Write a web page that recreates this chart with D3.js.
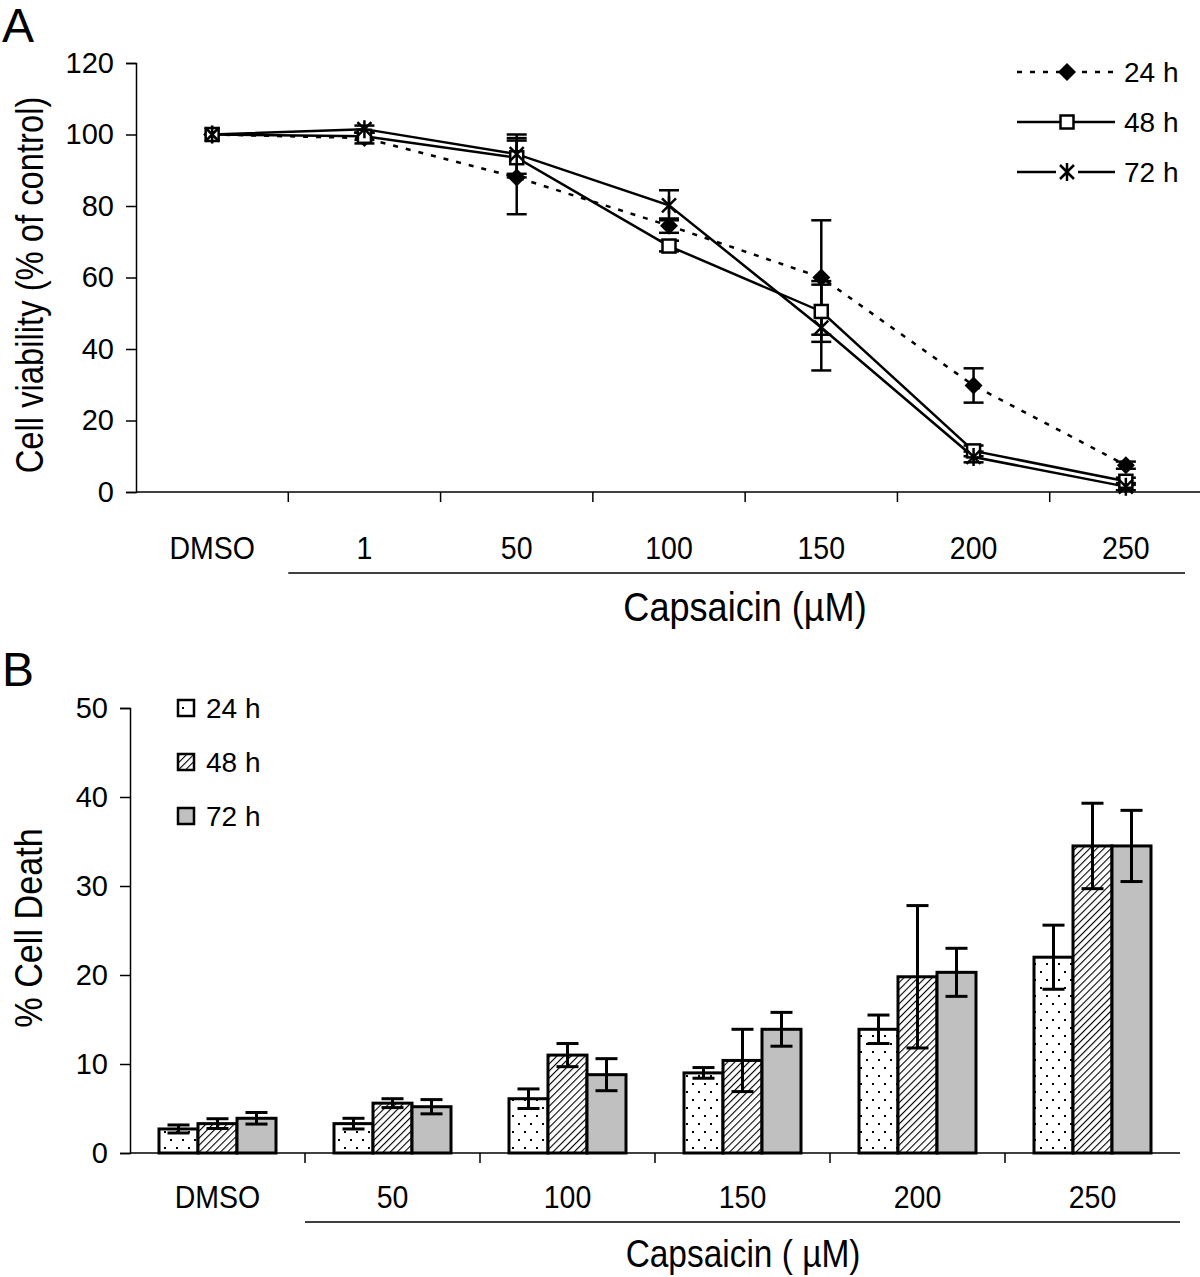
<!DOCTYPE html>
<html>
<head>
<meta charset="utf-8">
<script src="https://cdn.jsdelivr.net/npm/d3@7"></script>
<style>
  body { margin: 0; background: #fff; }
  svg { display: block; font-family: "Liberation Sans", Arial, sans-serif; }
</style>
</head>
<body>
<svg id="graf"></svg>
<script>
// panel A - viability
let dosisA = ['DMSO', '1', '50', '100', '150', '200', '250']
let ticksA = [0, 20, 40, 60, 80, 100, 120]
let via24 = [100, 99, 88, 74.5, 60, 29.8, 7.5]
let err24 = [0, 1.5, 10.3, 2, 16, 4.8, 1]
let via48 = [100, 99.5, 93.5, 68.8, 50.5, 11.5, 3]
let err48 = [0, 1, 5.5, 1.5, 8.5, 1.5, 1]
let via72 = [100, 101.5, 94.5, 80.2, 46, 9.8, 1.5]
let err72 = [0, 1, 5.5, 4.2, 12, 1.5, 1]

// panel B - cell death
let dosisB = ['DMSO', '50', '100', '150', '200', '250']
let ticksB = [0, 10, 20, 30, 40, 50]
let death24 = [2.7, 3.3, 6.1, 9.0, 13.9, 22.0]
let death48 = [3.3, 5.6, 11.0, 10.4, 19.8, 34.5]
let death72 = [3.9, 5.2, 8.8, 13.9, 20.3, 34.5]
let eDeath24 = [0.45, 0.6, 1.1, 0.6, 1.6, 3.6]
let eDeath48 = [0.55, 0.5, 1.3, 3.5, 8, 4.8]
let eDeath72 = [0.65, 0.8, 1.8, 1.9, 2.7, 4]
let horas = ['24 h', '48 h', '72 h']

function graficar() {
  let width = 1200
  let height = 1277
  let svg = d3.select('#graf')
            .attr('width', width)
            .attr('height', height)

  let defs = svg.append('defs')
  let dots = defs.append('pattern')
              .attr('id', 'puntos')
              .attr('patternUnits', 'userSpaceOnUse')
              .attr('width', 12).attr('height', 16)
  dots.append('rect').attr('width', 12).attr('height', 16).attr('fill', '#fff')
  dots.append('rect').attr('x', 2).attr('y', 3).attr('width', 2).attr('height', 2).attr('fill', '#000')
  dots.append('rect').attr('x', 8).attr('y', 11).attr('width', 2).attr('height', 2).attr('fill', '#000')
  let hatch = defs.append('pattern')
              .attr('id', 'rayas')
              .attr('patternUnits', 'userSpaceOnUse')
              .attr('width', 5).attr('height', 5)
              .attr('patternTransform', 'rotate(45)')
  hatch.append('rect').attr('width', 5).attr('height', 5).attr('fill', '#fff')
  hatch.append('line').attr('x1', 0).attr('y1', 0).attr('x2', 0).attr('y2', 5)
       .attr('stroke', '#000').attr('stroke-width', 2.2)

  // ---------- A ----------
  let xA = d3.scaleBand().domain(dosisA).range([136, 1202])
  let yA = d3.scaleLinear().domain([0, 120]).range([492, 63])
  let cx = d => xA(d) + xA.bandwidth() / 2

  svg.append('text').text('A').attr('x', 2).attr('y', 42)
     .style('font-size', '48px')

  let axA = svg.append('g').attr('transform', 'translate(136,0)')
              .call(d3.axisLeft(yA).tickValues(ticksA).tickSize(10).tickPadding(12))
  axA.selectAll('text').style('font-size', '29px').attr('fill', '#000')
  axA.selectAll('line,path').attr('stroke', '#000').attr('stroke-width', 1.5)

  svg.append('line').attr('x1', 136).attr('x2', 1202)
     .attr('y1', yA(0)).attr('y2', yA(0)).attr('stroke', '#000').attr('stroke-width', 1.5)
  svg.selectAll('.tickxa').data(dosisA.slice(1)).enter().append('line')
     .attr('x1', d => xA(d)).attr('x2', d => xA(d))
     .attr('y1', yA(0)).attr('y2', yA(0) + 10)
     .attr('stroke', '#000').attr('stroke-width', 1.5)
  svg.selectAll('.labxa').data(dosisA).enter().append('text')
     .text(d => d)
     .attr('transform', d => `translate(${cx(d)},559) scale(0.92,1)`)
     .attr('text-anchor', 'middle').style('font-size', '31px')
  svg.append('line').attr('x1', xA('1')).attr('x2', 1185).attr('y1', 573).attr('y2', 573)
     .attr('stroke', '#000').attr('stroke-width', 1.5)
  svg.append('text').text('Capsaicin (µM)')
     .attr('transform', 'translate(745,621) scale(0.88,1)')
     .attr('text-anchor', 'middle').style('font-size', '41px')
  svg.append('text').text('Cell viability (% of control)')
     .attr('transform', `translate(43, 285) rotate(-90) scale(0.84,1)`)
     .attr('text-anchor', 'middle').style('font-size', '39px')

  let series = [
    {nombre: '24 h', val: via24, err: err24, dash: '5,8', marca: 'diamante'},
    {nombre: '48 h', val: via48, err: err48, dash: null, marca: 'cuadro'},
    {nombre: '72 h', val: via72, err: err72, dash: null, marca: 'aster'}
  ]
  let linea = d3.line().x((d, i) => cx(dosisA[i])).y(d => yA(d))

  series.forEach(s => {
    svg.append('path').attr('d', linea(s.val))
       .attr('fill', 'none').attr('stroke', '#000').attr('stroke-width', 2.5)
       .attr('stroke-dasharray', s.dash)
  })

  series.forEach(s => {
    let g = svg.append('g')
    s.val.forEach((v, i) => {
      if (!s.err[i]) return
      let x = cx(dosisA[i])
      g.append('line').attr('x1', x).attr('x2', x)
       .attr('y1', yA(v - s.err[i])).attr('y2', yA(v + s.err[i]))
       .attr('stroke', '#000').attr('stroke-width', 2.5)
      ;[v - s.err[i], v + s.err[i]].forEach(e => {
        g.append('line').attr('x1', x - 10).attr('x2', x + 10)
         .attr('y1', yA(e)).attr('y2', yA(e))
         .attr('stroke', '#000').attr('stroke-width', 2.5)
      })
    })
  })

  function marca(g, tipo, x, y) {
    if (tipo == 'diamante') {
      g.append('path').attr('d', `M${x},${y - 9}L${x + 9},${y}L${x},${y + 9}L${x - 9},${y}Z`)
       .attr('fill', '#000')
    } else if (tipo == 'cuadro') {
      g.append('rect').attr('x', x - 6.5).attr('y', y - 6.5).attr('width', 13).attr('height', 13)
       .attr('fill', '#fff').attr('stroke', '#000').attr('stroke-width', 2.5)
    } else {
      g.append('path').attr('d', `M${x - 7},${y - 7}L${x + 7},${y + 7}M${x + 7},${y - 7}L${x - 7},${y + 7}M${x},${y - 9}L${x},${y + 9}`)
       .attr('stroke', '#000').attr('stroke-width', 2.5)
    }
  }

  series.forEach(s => {
    let g = svg.append('g')
    s.val.forEach((v, i) => marca(g, s.marca, cx(dosisA[i]), yA(v)))
  })

  // legend A
  series.forEach((s, i) => {
    let y = 72 + i * 50
    let g = svg.append('g')
    g.append('line').attr('x1', 1017).attr('x2', 1115).attr('y1', y).attr('y2', y)
     .attr('stroke', '#000').attr('stroke-width', 2.5).attr('stroke-dasharray', s.dash)
    if (s.marca == 'aster') {
      g.append('rect').attr('x', 1056).attr('y', y - 5).attr('width', 22).attr('height', 10).attr('fill', '#fff')
    }
    marca(g, s.marca, 1067, y)
    g.append('text').text(s.nombre).attr('x', 1124).attr('y', y + 10).style('font-size', '28px')
  })

  // ---------- B ----------
  let xB = d3.scaleBand().domain(dosisB).range([130, 1180])
  let yB = d3.scaleLinear().domain([0, 50]).range([1153, 708])
  let sub = d3.scaleBand().domain(horas).range([0, 117])
  let off = (xB.bandwidth() - 117) / 2

  svg.append('text').text('B').attr('x', 2).attr('y', 686)
     .style('font-size', '48px')

  let axB = svg.append('g').attr('transform', 'translate(130,0)')
              .call(d3.axisLeft(yB).tickValues(ticksB).tickSize(10).tickPadding(12))
  axB.selectAll('text').style('font-size', '29px').attr('fill', '#000')
  axB.selectAll('line,path').attr('stroke', '#000').attr('stroke-width', 1.5)

  svg.append('line').attr('x1', 130).attr('x2', 1180)
     .attr('y1', yB(0)).attr('y2', yB(0)).attr('stroke', '#000').attr('stroke-width', 1.5)
  svg.selectAll('.tickxb').data(dosisB.slice(1)).enter().append('line')
     .attr('x1', d => xB(d)).attr('x2', d => xB(d))
     .attr('y1', yB(0)).attr('y2', yB(0) + 10)
     .attr('stroke', '#000').attr('stroke-width', 1.5)
  svg.selectAll('.labxb').data(dosisB).enter().append('text')
     .text(d => d)
     .attr('transform', d => `translate(${xB(d) + xB.bandwidth() / 2},1208) scale(0.92,1)`)
     .attr('text-anchor', 'middle').style('font-size', '31px')
  svg.append('line').attr('x1', xB('50')).attr('x2', 1180).attr('y1', 1222).attr('y2', 1222)
     .attr('stroke', '#000').attr('stroke-width', 1.5)
  svg.append('text').text('Capsaicin ( µM)')
     .attr('transform', 'translate(743,1267) scale(0.88,1)')
     .attr('text-anchor', 'middle').style('font-size', '38px')
  svg.append('text').text('% Cell Death')
     .attr('transform', `translate(42, 928) rotate(-90) scale(0.9,1)`)
     .attr('text-anchor', 'middle').style('font-size', '38px')

  let barras = [
    {nombre: '24 h', val: death24, err: eDeath24, fill: 'url(#puntos)'},
    {nombre: '48 h', val: death48, err: eDeath48, fill: 'url(#rayas)'},
    {nombre: '72 h', val: death72, err: eDeath72, fill: '#c0c0c0'}
  ]

  barras.forEach(b => {
    let g = svg.append('g')
    g.selectAll('rect').data(b.val).enter().append('rect')
     .attr('x', (d, i) => xB(dosisB[i]) + off + sub(b.nombre))
     .attr('y', d => yB(d))
     .attr('width', sub.bandwidth())
     .attr('height', d => yB(0) - yB(d))
     .attr('fill', b.fill).attr('stroke', '#000').attr('stroke-width', 3)
  })

  barras.forEach(b => {
    let g = svg.append('g')
    b.val.forEach((v, i) => {
      let x = xB(dosisB[i]) + off + sub(b.nombre) + sub.bandwidth() / 2
      g.append('line').attr('x1', x).attr('x2', x)
       .attr('y1', yB(v - b.err[i])).attr('y2', yB(v + b.err[i]))
       .attr('stroke', '#000').attr('stroke-width', 3)
      ;[v - b.err[i], v + b.err[i]].forEach(e => {
        g.append('line').attr('x1', x - 11).attr('x2', x + 11)
         .attr('y1', yB(e)).attr('y2', yB(e))
         .attr('stroke', '#000').attr('stroke-width', 3)
      })
    })
  })

  // legend B
  barras.forEach((b, i) => {
    let y = 708 + i * 54
    svg.append('rect').attr('x', 178).attr('y', y - 8).attr('width', 16).attr('height', 16)
       .attr('fill', b.fill).attr('stroke', '#000').attr('stroke-width', 2.5)
    svg.append('text').text(b.nombre).attr('x', 206).attr('y', y + 10).style('font-size', '28px')
  })
}

graficar()
</script>
</body>
</html>
